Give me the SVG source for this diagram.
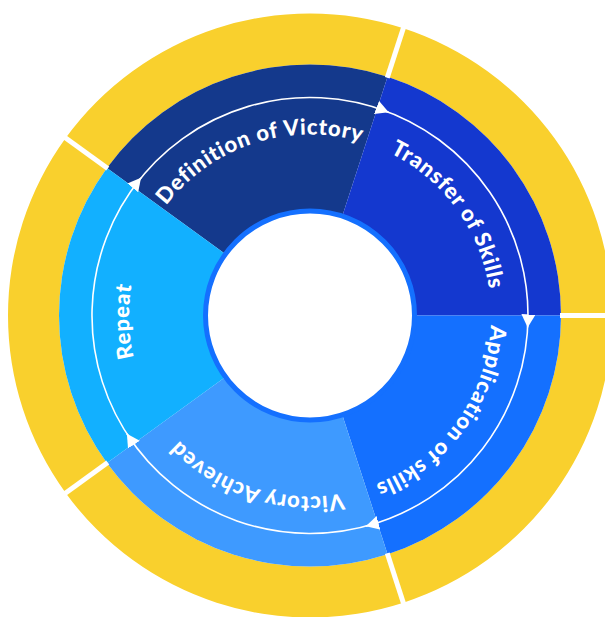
<svg xmlns="http://www.w3.org/2000/svg" xmlns:xlink="http://www.w3.org/1999/xlink" width="605" height="617" viewBox="0 0 605 617">
  <style>
    .rim { fill: #F9D02D; }
    .gap { stroke: #FFFFFF; stroke-width: 5; fill: none; }
    .label { fill: #FFFFFF; font-family: Lato, "Open Sans", "Liberation Sans", sans-serif; font-weight: 900; font-size: 22px; letter-spacing: 0.8px; }
    .flow { fill: none; stroke: #FFFFFF; stroke-width: 1.6; marker-end: url(#head); }
  </style>
  <defs>
    <!-- baseline circle for the stage labels (clockwise, starts at 3 o'clock) -->
    <path id="labelTrack" d="M491,315.5 A181,181 0 1 1 129,315.5 A181,181 0 1 1 491,315.5"/>
    <marker id="head" markerUnits="userSpaceOnUse" viewBox="0 0 13 14" markerWidth="13" markerHeight="14" refX="13" refY="7" orient="auto">
      <path d="M0,0 L13,7 L0,14 Z" fill="#FFFFFF"/>
    </marker>
  </defs>

  <!-- stage 1 -->
  <g id="definition-of-victory">
    <path class="rim" d="M106.94,167.97 L65.68,137.99 A302,302 0 0 1 403.32,28.28 L387.56,76.78 A251,251 0 0 0 106.94,167.97 Z"/>
    <path fill="#14398C" d="M310,315.5 L106.94,167.97 A251,251 0 0 1 387.56,76.78 Z"/>
    <text class="label"><textPath xlink:href="#labelTrack" href="#labelTrack" startOffset="70%" text-anchor="middle">Definition of Victory</textPath></text>
  </g>

  <!-- stage 2 -->
  <g id="transfer-of-skills">
    <path class="rim" d="M387.56,76.78 L403.32,28.28 A302,302 0 0 1 612,315.5 L561,315.5 A251,251 0 0 0 387.56,76.78 Z"/>
    <path fill="#1438CF" d="M310,315.5 L387.56,76.78 A251,251 0 0 1 561,315.5 Z"/>
    <text class="label"><textPath xlink:href="#labelTrack" href="#labelTrack" startOffset="90%" text-anchor="middle">Transfer of Skills</textPath></text>
  </g>

  <!-- stage 3 -->
  <g id="application-of-skills">
    <path class="rim" d="M561,315.5 L612,315.5 A302,302 0 0 1 403.32,602.72 L387.56,554.22 A251,251 0 0 0 561,315.5 Z"/>
    <path fill="#1470FF" d="M310,315.5 L561,315.5 A251,251 0 0 1 387.56,554.22 Z"/>
    <text class="label"><textPath xlink:href="#labelTrack" href="#labelTrack" startOffset="10%" text-anchor="middle">Application of skills</textPath></text>
  </g>

  <!-- stage 4 -->
  <g id="victory-achieved">
    <path class="rim" d="M387.56,554.22 L403.32,602.72 A302,302 0 0 1 65.68,493.01 L106.94,463.03 A251,251 0 0 0 387.56,554.22 Z"/>
    <path fill="#3E9AFF" d="M310,315.5 L387.56,554.22 A251,251 0 0 1 106.94,463.03 Z"/>
    <text class="label"><textPath xlink:href="#labelTrack" href="#labelTrack" startOffset="30%" text-anchor="middle">Victory Achieved</textPath></text>
  </g>

  <!-- stage 5 -->
  <g id="repeat">
    <path class="rim" d="M106.94,463.03 L65.68,493.01 A302,302 0 0 1 65.68,137.99 L106.94,167.97 A251,251 0 0 0 106.94,463.03 Z"/>
    <path fill="#12B0FF" d="M310,315.5 L106.94,463.03 A251,251 0 0 1 106.94,167.97 Z"/>
    <text class="label"><textPath xlink:href="#labelTrack" href="#labelTrack" startOffset="49.5%" text-anchor="middle">Repeat</textPath></text>
  </g>

  <!-- white cuts between the outer rim pieces -->
  <g id="rim-cuts">
    <line class="gap" x1="387.25" y1="77.73" x2="405.18" y2="22.57"/>
    <line class="gap" x1="560" y1="315.5" x2="612" y2="315.5"/>
    <line class="gap" x1="387.25" y1="553.27" x2="405.18" y2="608.43"/>
    <line class="gap" x1="107.75" y1="462.44" x2="60.83" y2="496.53"/>
    <line class="gap" x1="107.75" y1="168.56" x2="60.83" y2="134.47"/>
  </g>

  <!-- centre hub -->
  <g id="hub">
    <circle cx="310" cy="315.5" r="104.5" fill="#FFFFFF" stroke="#1470FF" stroke-width="5"/>
  </g>

  <!-- clockwise flow arrows between stages -->
  <g id="connectors">
    <path class="flow" d="M133.63,187.36 A218,218 0 0 1 388.67,112.19"/>
    <path class="flow" d="M377.37,108.17 A218,218 0 0 1 527.67,327.49"/>
    <path class="flow" d="M528,315.5 A218,218 0 0 1 365.85,526.22"/>
    <path class="flow" d="M377.37,522.83 A218,218 0 0 1 126.86,433.75"/>
    <path class="flow" d="M133.63,443.64 A218,218 0 0 1 140.99,177.80"/>
  </g>
</svg>
